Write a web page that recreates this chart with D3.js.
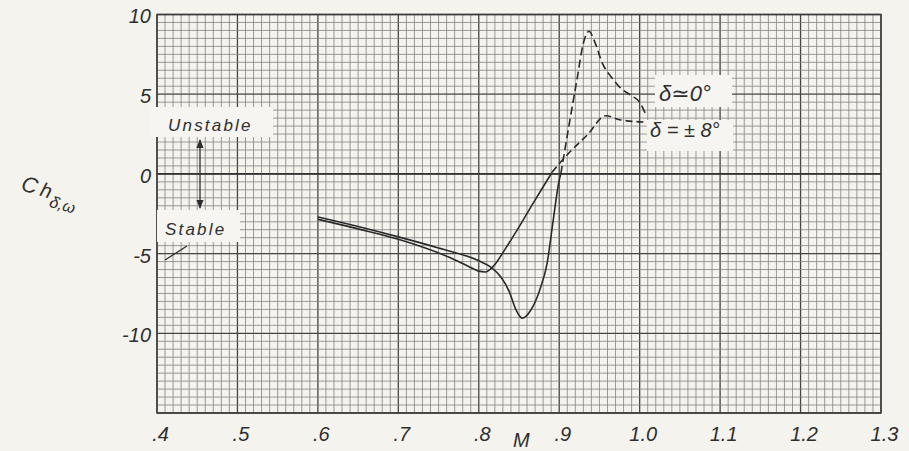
<!DOCTYPE html>
<html><head><meta charset="utf-8">
<script src="https://cdn.jsdelivr.net/npm/d3@7"></script>
<style>
html,body{margin:0;padding:0;background:#f4f3ee;}
svg{display:block;}
text{font-family:"Liberation Sans","DejaVu Sans",sans-serif;font-style:italic;fill:#2e2e2e;}
</style></head>
<body><svg id="c" width="909" height="451"></svg>
<script>
// ---- data ----
const xTicks = [0.4,0.5,0.6,0.7,0.8,0.9,1.0,1.1,1.2,1.3];
const xTickLabels = [".4",".5",".6",".7",".8",".9","1.0","1.1","1.2","1.3"];
const yTicks = [10,5,0,-5,-10];
const yTickLabels = ["10","5","0","-5","-10"];

// δ ≈ 0° : solid part then dashed part
const zeroSolidM = [0.60,0.65,0.70,0.75,0.80,0.815,0.828,0.838,0.846,0.854,0.864,0.876,0.885,0.892,0.900,0.902];
const zeroSolidC = [-2.7,-3.3,-3.95,-4.65,-5.45,-5.85,-6.5,-7.4,-8.5,-9.05,-8.6,-7.25,-5.6,-3.1,-0.4,0.0];
const zeroDashM = [0.902,0.912,0.922,0.930,0.937,0.944,0.954,0.966,0.976,0.990,1.000,1.007];
const zeroDashC = [0.0,3.0,5.9,8.2,8.95,8.3,6.9,6.0,5.4,4.9,4.5,3.8];

// δ = ±8° : solid part then dashed part
const eightSolidM = [0.60,0.65,0.70,0.764,0.789,0.800,0.808,0.818,0.833,0.848,0.868,0.885,0.891];
const eightSolidC = [-2.85,-3.45,-4.1,-5.25,-5.85,-6.1,-6.15,-5.8,-4.7,-3.5,-1.8,-0.4,0.1];
const eightDashM = [0.891,0.910,0.935,0.958,0.975,1.007];
const eightDashC = [0.1,1.2,2.45,3.65,3.4,3.25];

// ---- layout ----
const svg = d3.select("#c");
const L = 157, R = 881, T = 14.5, B = 413;
const x = d3.scaleLinear().domain([0.4,1.3]).range([L,R]);
const y = d3.scaleLinear().domain([-15,10]).range([B,T]);

// grid
const g = svg.append("g");
const minorX = d3.range(0,91).map(i => 0.4 + i*0.01);
const minorY = d3.range(0,51).map(i => -15 + i*0.5);
g.selectAll(".vx").data(minorX).join("line")
  .attr("x1",d=>x(d)).attr("x2",d=>x(d)).attr("y1",T).attr("y2",B)
  .attr("stroke",(d,i)=> i%10===0 ? "#444" : "#7c7c7c")
  .attr("stroke-width",(d,i)=> i%10===0 ? 1.3 : 0.75);
g.selectAll(".hy").data(minorY).join("line")
  .attr("x1",L).attr("x2",R).attr("y1",d=>y(d)).attr("y2",d=>y(d))
  .attr("stroke",(d,i)=> i%10===0 ? "#444" : "#7c7c7c")
  .attr("stroke-width",(d,i)=> i%10===0 ? 1.3 : 0.75);
// zero line
g.append("line").attr("x1",L).attr("x2",R).attr("y1",y(0)).attr("y2",y(0))
  .attr("stroke","#333").attr("stroke-width",1.8);
// border
g.append("rect").attr("x",L).attr("y",T).attr("width",R-L).attr("height",B-T)
  .attr("fill","none").attr("stroke","#3a3a3a").attr("stroke-width",1.4);

// axis (tick labels via d3 axis)
const xAxis = d3.axisBottom(x).tickValues(xTicks).tickFormat((d,i)=>xTickLabels[i]).tickSize(0).tickPadding(14);
const xa = svg.append("g").attr("transform",`translate(3,${B})`).call(xAxis);
xa.select(".domain").remove();
xa.selectAll("text").attr("font-size",20).attr("fill","#2e2e2e")
  .style("font-family","'Liberation Sans','DejaVu Sans',sans-serif").style("font-style","italic");

const yAxis = d3.axisLeft(y).tickValues(yTicks).tickFormat((d,i)=>yTickLabels[i]).tickSize(0).tickPadding(6);
const ya = svg.append("g").attr("transform",`translate(${L},2)`).call(yAxis);
ya.select(".domain").remove();
ya.selectAll("text").attr("font-size",20).attr("fill","#2e2e2e")
  .style("font-family","'Liberation Sans','DejaVu Sans',sans-serif").style("font-style","italic");

// curves
const line = d3.line().x(d=>x(d[0])).y(d=>y(d[1])).curve(d3.curveMonotoneX);
const zip = (a,b) => a.map((v,i)=>[v,b[i]]);
const curves = [
  {pts: zip(zeroSolidM,zeroSolidC), dash:null},
  {pts: zip(zeroDashM,zeroDashC), dash:"8,4"},
  {pts: zip(eightSolidM,eightSolidC), dash:null},
  {pts: zip(eightDashM,eightDashC), dash:"7,4"}
];
svg.selectAll(".crv").data(curves).join("path")
  .attr("d",d=>line(d.pts)).attr("fill","none").attr("stroke","#2a2a2a")
  .attr("stroke-width",1.6).attr("stroke-dasharray",d=>d.dash);

// label boxes
const bg = "#f6f5f1";
function box(x0,y0,w,h){ svg.append("rect").attr("x",x0).attr("y",y0).attr("width",w).attr("height",h).attr("fill",bg); }
box(150,107,123,30);
box(157,210,83,32);
box(655,75,77,32);
box(647,120,86,31);

svg.append("text").attr("x",168).attr("y",131).attr("font-size",17).attr("letter-spacing",2.2).text("Unstable");
svg.append("text").attr("x",165).attr("y",235).attr("font-size",17).attr("letter-spacing",2.2).text("Stable");
svg.append("text").attr("x",659).attr("y",101).attr("font-size",22).text("δ≃0°");
svg.append("text").attr("x",650).attr("y",137).attr("font-size",20).attr("xml:space","preserve").text("δ = ± 8°");

// arrow
const defs = svg.append("defs");
defs.append("marker").attr("id","ah").attr("viewBox","0 0 10 10").attr("refX",9).attr("refY",5)
  .attr("markerWidth",7).attr("markerHeight",7).attr("orient","auto-start-reverse")
  .append("path").attr("d","M0,1 L10,5 L0,9 Z").attr("fill","#2e2e2e");
svg.append("line").attr("x1",200).attr("x2",200).attr("y1",140).attr("y2",208)
  .attr("stroke","#2e2e2e").attr("stroke-width",1.3)
  .attr("marker-start","url(#ah)").attr("marker-end","url(#ah)");
svg.append("line").attr("x1",165).attr("y1",260).attr("x2",187).attr("y2",246)
  .attr("stroke","#2e2e2e").attr("stroke-width",1.3);

// y axis label
const yl = svg.append("text").attr("transform","translate(20,190) rotate(16)").attr("font-size",22);
yl.append("tspan").text("C");
yl.append("tspan").attr("dx",4).attr("font-size",20).text("h");
yl.append("tspan").attr("dy",8).attr("dx",1).attr("font-size",16).text("δ̇,ω");

// M label
svg.append("text").attr("x",513).attr("y",447).attr("font-size",20).text("M");
</script></body></html>
